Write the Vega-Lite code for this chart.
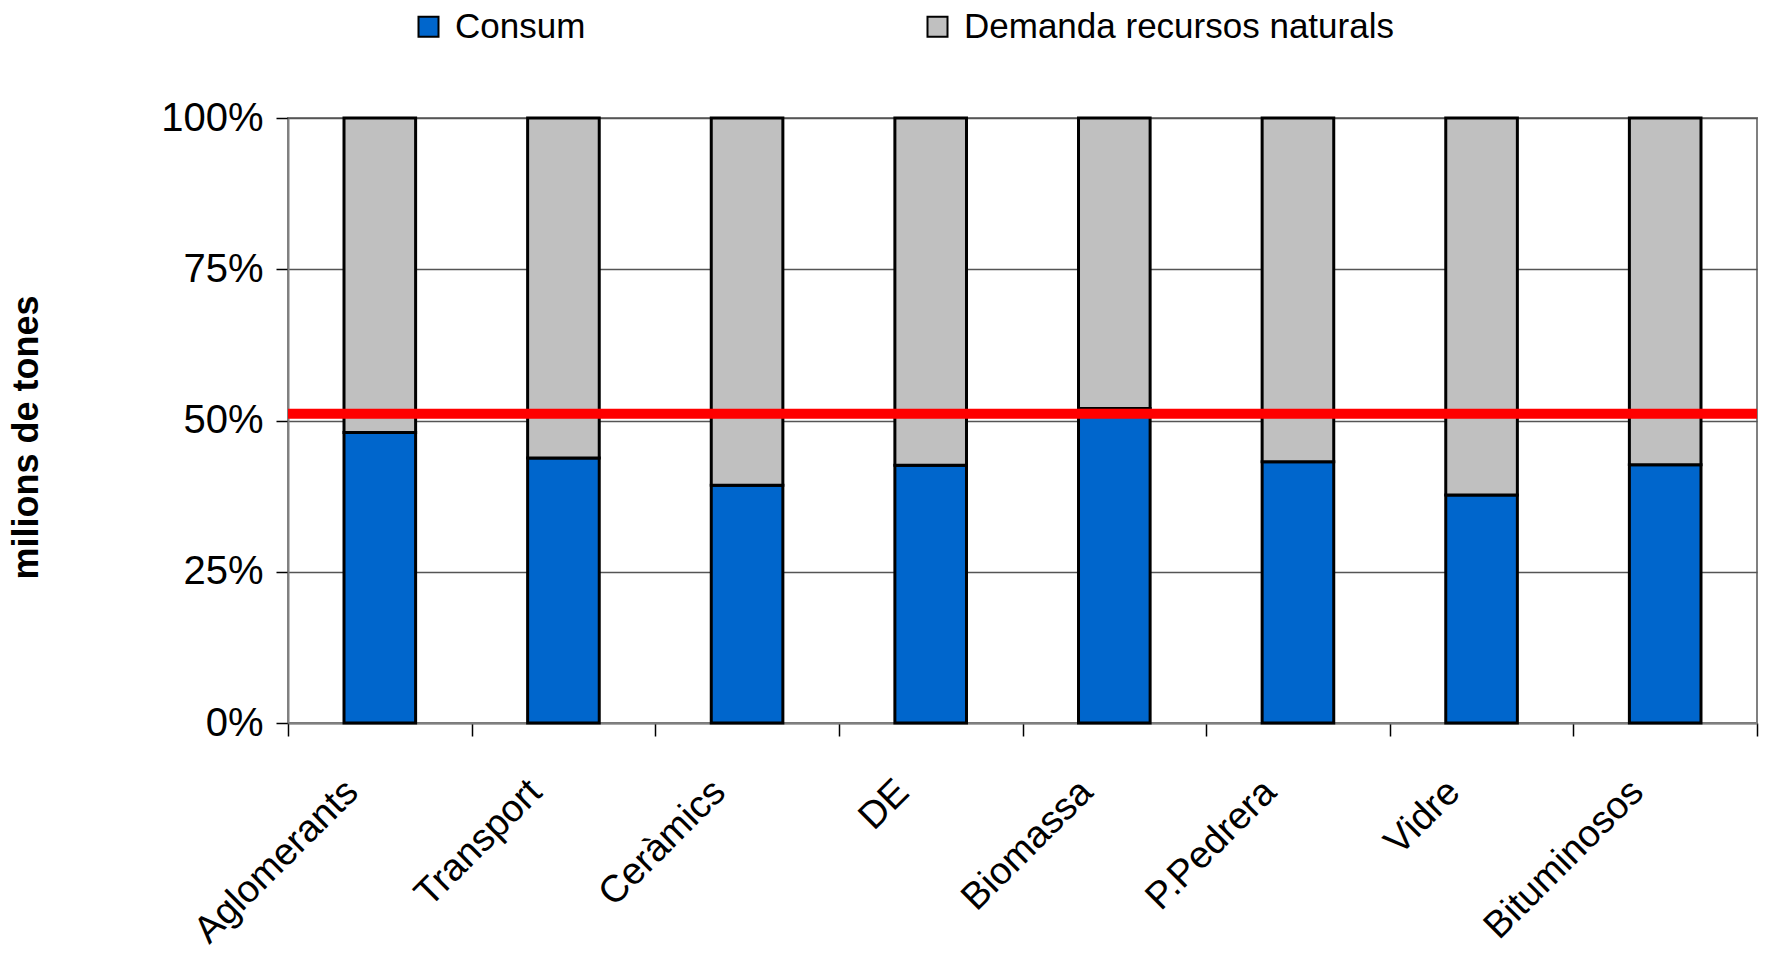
{
  "$schema": "https://vega.github.io/schema/vega-lite/v6.json",
  "width": 1469,
  "height": 605,
  "autosize": {"type": "none"},
  "padding": {"left": 288, "top": 118, "right": 13, "bottom": 230},
  "background": "white",
  "config": {
    "font": "Liberation Sans",
    "view": {"stroke": "#808080", "strokeWidth": 2}
  },
  "layer": [
    {
      "data": {
        "values": [
          {"sector": "Aglomerants", "serie": "Consum", "share": 0.480},
          {"sector": "Aglomerants", "serie": "Demanda recursos naturals", "share": 0.520},
          {"sector": "Transport", "serie": "Consum", "share": 0.438},
          {"sector": "Transport", "serie": "Demanda recursos naturals", "share": 0.562},
          {"sector": "Ceràmics", "serie": "Consum", "share": 0.393},
          {"sector": "Ceràmics", "serie": "Demanda recursos naturals", "share": 0.607},
          {"sector": "DE", "serie": "Consum", "share": 0.426},
          {"sector": "DE", "serie": "Demanda recursos naturals", "share": 0.574},
          {"sector": "Biomassa", "serie": "Consum", "share": 0.520},
          {"sector": "Biomassa", "serie": "Demanda recursos naturals", "share": 0.480},
          {"sector": "P.Pedrera", "serie": "Consum", "share": 0.432},
          {"sector": "P.Pedrera", "serie": "Demanda recursos naturals", "share": 0.568},
          {"sector": "Vidre", "serie": "Consum", "share": 0.377},
          {"sector": "Vidre", "serie": "Demanda recursos naturals", "share": 0.623},
          {"sector": "Bituminosos", "serie": "Consum", "share": 0.427},
          {"sector": "Bituminosos", "serie": "Demanda recursos naturals", "share": 0.573}
        ]
      },
      "mark": {"type": "bar", "stroke": "black", "strokeWidth": 3, "opacity": 1, "width": {"band": 0.39}},
      "encoding": {
        "x": {
          "field": "sector",
          "type": "nominal",
          "sort": null,
          "scale": {"paddingInner": 0, "paddingOuter": 0},
          "axis": {
            "title": null,
            "labelAngle": -45,
            "labelAlign": "right",
            "labelBaseline": "middle",
            "labelFontSize": 38,
            "labelColor": "black",
            "labelLimit": 0,
            "labelPadding": 50,
            "labelOffset": -28,
            "tickBand": "extent",
            "tickSize": 13,
            "tickColor": "black",
            "tickWidth": 1.5,
            "domainColor": "#808080",
            "domainWidth": 2,
            "grid": false
          }
        },
        "y": {
          "field": "share",
          "type": "quantitative",
          "stack": "zero",
          "scale": {"domain": [0, 1], "nice": false},
          "axis": {
            "title": "milions de tones",
            "format": ".0%",
            "values": [0, 0.25, 0.5, 0.75, 1],
            "labelFontSize": 40,
            "labelColor": "black",
            "labelPadding": 13,
            "tickSize": 12,
            "tickColor": "black",
            "tickWidth": 1.5,
            "domainColor": "#808080",
            "domainWidth": 2,
            "grid": true,
            "gridColor": "#555555",
            "gridWidth": 1.5,
            "titleFontSize": 36,
            "titleFontWeight": "bold",
            "titleColor": "black",
            "titleAngle": -90,
            "titleX": -262,
            "titleY": 319,
            "titleAlign": "center",
            "titleBaseline": "middle"
          }
        },
        "color": {
          "field": "serie",
          "type": "nominal",
          "scale": {"domain": ["Consum", "Demanda recursos naturals"], "range": ["#0066CC", "#C0C0C0"]},
          "legend": {
            "orient": "none",
            "legendX": 123,
            "legendY": -109,
            "direction": "horizontal",
            "title": null,
            "symbolType": "square",
            "symbolSize": 400,
            "symbolStrokeColor": "black",
            "symbolStrokeWidth": 2,
            "symbolOpacity": 1,
            "labelFontSize": 35,
            "labelLimit": 0,
            "labelColor": "black",
            "labelOffset": 9,
            "columnPadding": 334
          }
        },
        "order": {"field": "serie", "type": "nominal", "sort": "ascending"}
      }
    },
    {
      "data": {"values": [{"llindar": 0.511}]},
      "mark": {"type": "rule", "color": "#FF0000", "strokeWidth": 10},
      "encoding": {"y": {"field": "llindar", "type": "quantitative"}}
    }
  ]
}
